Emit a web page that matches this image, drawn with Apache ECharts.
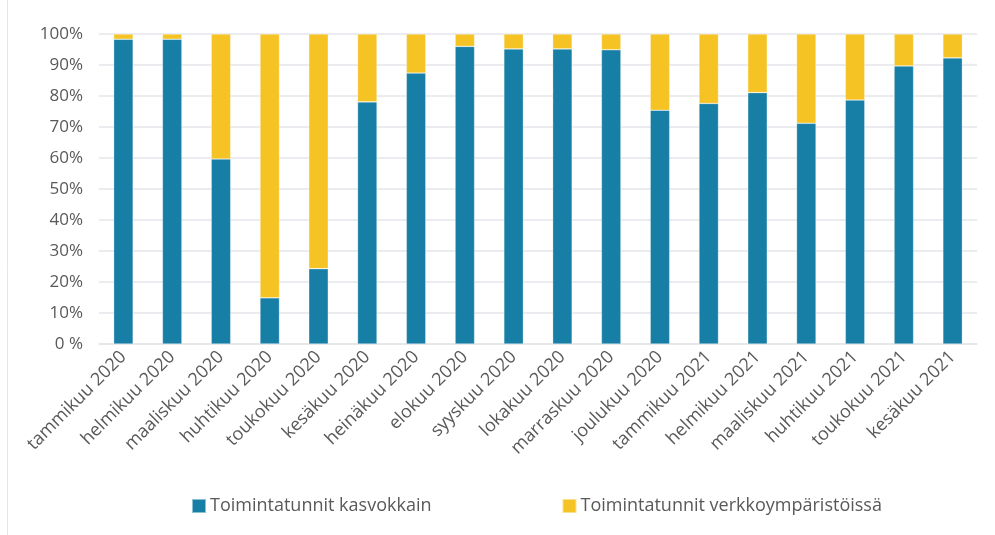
<!DOCTYPE html>
<html>
<head>
<meta charset="utf-8">
<script src="https://cdn.jsdelivr.net/npm/echarts@6/dist/echarts.min.js"></script>
<style>
  html, body { margin: 0; padding: 0; background: #fff; }
  #chart { width: 995px; height: 535px; }
</style>
</head>
<body>
<div id="chart"></div>
<script>
const months = [
    'tammikuu 2020', 'helmikuu 2020', 'maaliskuu 2020', 'huhtikuu 2020',
    'toukokuu 2020', 'kesäkuu 2020', 'heinäkuu 2020', 'elokuu 2020',
    'syyskuu 2020', 'lokakuu 2020', 'marraskuu 2020', 'joulukuu 2020',
    'tammikuu 2021', 'helmikuu 2021', 'maaliskuu 2021', 'huhtikuu 2021',
    'toukokuu 2021', 'kesäkuu 2021'
];
// osuudet prosentteina
const kasvokkain = [98.3, 98.3, 59.7, 14.9, 24.3, 78.1, 87.4, 96.0, 95.2,
    95.2, 94.9, 75.4, 77.6, 81.1, 71.2, 78.7, 89.7, 92.3];
const verkossa = [1.7, 1.7, 40.3, 85.1, 75.7, 21.9, 12.6, 4.0, 4.8,
    4.8, 5.1, 24.6, 22.4, 18.9, 28.8, 21.3, 10.3, 7.7];
const seriesNames = ['Toimintatunnit kasvokkain', 'Toimintatunnit verkkoympäristöissä'];
const yTicks = [0, 10, 20, 30, 40, 50, 60, 70, 80, 90, 100];

const font = 'Open Sans';
const textColor = '#595959';

const option = {
    animation: false,
    textStyle: { fontFamily: font },
    graphic: [{
        type: 'line',
        shape: { x1: 7.5, y1: 0, x2: 7.5, y2: 535 },
        style: { stroke: '#e3e6ea', lineWidth: 1 }
    }],
    legend: {
        data: seriesNames,
        left: 191,
        top: 497,
        padding: 0,
        itemWidth: 14,
        itemHeight: 14,
        itemGap: 130,
        icon: 'rect',
        textStyle: { fontFamily: font, fontSize: 18, color: textColor, padding: [0, 0, 0, -1] }
    },
    grid: { left: 99, right: 18, top: 34, bottom: 191 },
    xAxis: {
        type: 'category',
        data: months,
        axisTick: { show: false },
        axisLine: { lineStyle: { color: '#e3e6ea', width: 1.5 } },
        axisLabel: {
            rotate: 45,
            margin: 10,
            interval: 0,
            fontFamily: font,
            fontSize: 18,
            color: textColor
        }
    },
    yAxis: {
        type: 'value',
        min: 0,
        max: 100,
        interval: 10,
        axisLine: { show: false },
        axisTick: { show: false },
        splitLine: { lineStyle: { color: '#e3e6ea', width: 1.5 } },
        axisLabel: {
            margin: 16,
            fontFamily: font,
            fontSize: 17,
            color: textColor,
            formatter: function (v) {
                if (yTicks.indexOf(v) < 0) return '';
                return v === 0 ? '0 %' : v + '%';
            }
        }
    },
    series: [{
        name: seriesNames[0],
        type: 'bar',
        stack: 'total',
        barWidth: '40%',
        data: kasvokkain,
        itemStyle: { color: '#177ea6', borderColor: 'rgba(255,255,255,0.5)', borderWidth: 0.6 }
    }, {
        name: seriesNames[1],
        type: 'bar',
        stack: 'total',
        barWidth: '40%',
        data: verkossa,
        itemStyle: { color: '#f5c324', borderColor: 'rgba(255,255,255,0.5)', borderWidth: 0.6 }
    }]
};

echarts.init(document.getElementById('chart')).setOption(option);
</script>
</body>
</html>
